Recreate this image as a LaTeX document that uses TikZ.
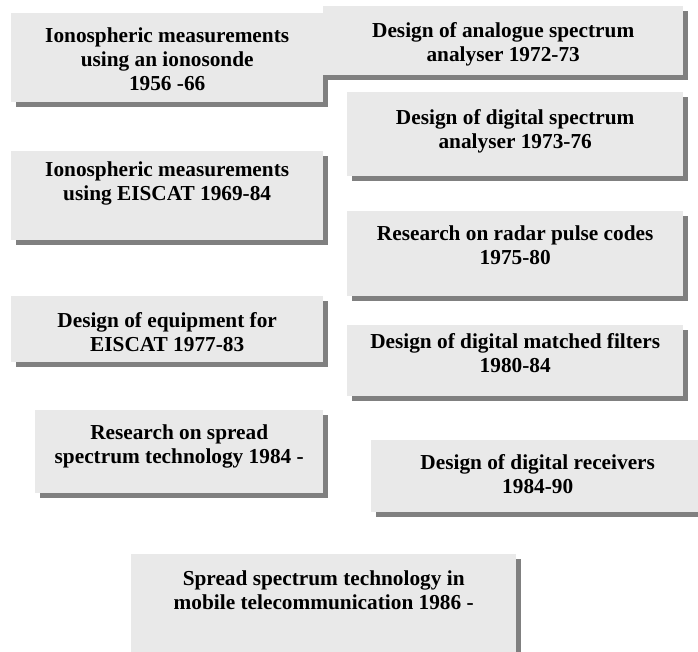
\documentclass[tikz,border=0pt]{standalone}
\usepackage{fontspec}
\setmainfont{Liberation Serif}
\usetikzlibrary{positioning,shadows}

\definecolor{boxgray}{RGB}{233,233,233}
\definecolor{shadowgray}{RGB}{128,128,128}

\tikzset{
  period/.style={rectangle, fill=boxgray, anchor=north west, inner sep=0pt,
    drop shadow={shadow xshift=5pt, shadow yshift=-5pt, fill=shadowgray, opacity=1}},
  caption/.style={anchor=north, inner sep=0pt, align=center,
    font=\fontsize{21.3}{24}\selectfont\bfseries}
}

\begin{document}
\begin{tikzpicture}[x=1pt, y=-1pt]
	\clip (0,0) rectangle (698,651);
	\fill[white] (0,0) rectangle (698,651);

	% left column
	\node[period, minimum width=312pt, minimum height=89pt] (ionosonde) at (11,13) {};
	\node[caption, below=15pt of ionosonde.north] (ionosondetxt) {Ionospheric measurements\\using an ionosonde\\1956 -66};

	\node[period, minimum width=360pt, minimum height=69pt] (analogue) at (323,6) {};
	\node[caption, below=16pt of analogue.north] (analoguetxt) {Design of analogue spectrum\\analyser 1972-73};

	\node[period, minimum width=336pt, minimum height=84pt] (digspec) at (347,92) {};
	\node[caption, below=17pt of digspec.north] (digspectxt) {Design of digital spectrum\\analyser 1973-76};

	\node[period, minimum width=312pt, minimum height=89pt] (eiscat) at (11,151) {};
	\node[caption, below=11pt of eiscat.north] (eiscattxt) {Ionospheric measurements\\using EISCAT 1969-84};

	\node[period, minimum width=336pt, minimum height=85pt] (radar) at (347,211) {};
	\node[caption, below=15pt of radar.north] (radartxt) {Research on radar pulse codes\\1975-80};

	\node[period, minimum width=312pt, minimum height=66pt] (equip) at (11,296) {};
	\node[caption, below=16pt of equip.north] (equiptxt) {Design of equipment for\\EISCAT 1977-83};

	\node[period, minimum width=336pt, minimum height=71pt] (matched) at (347,325) {};
	\node[caption, below=8pt of matched.north] (matchedtxt) {Design of digital matched filters\\1980-84};

	\node[period, minimum width=288pt, minimum height=83pt] (spread) at (35,410) {};
	\node[caption, below=15pt of spread.north] (spreadtxt) {Research on spread\\spectrum technology 1984 -};

	\node[period, minimum width=333pt, minimum height=72pt] (receiver) at (371,440) {};
	\node[caption, below=14pt of receiver.north] (receivertxt) {Design of digital receivers\\1984-90};

	\node[period, minimum width=385pt, minimum height=110pt] (mobile) at (131,554) {};
	\node[caption, below=17pt of mobile.north] (mobiletxt) {Spread spectrum technology in\\mobile telecommunication 1986 -};
\end{tikzpicture}
\end{document}
